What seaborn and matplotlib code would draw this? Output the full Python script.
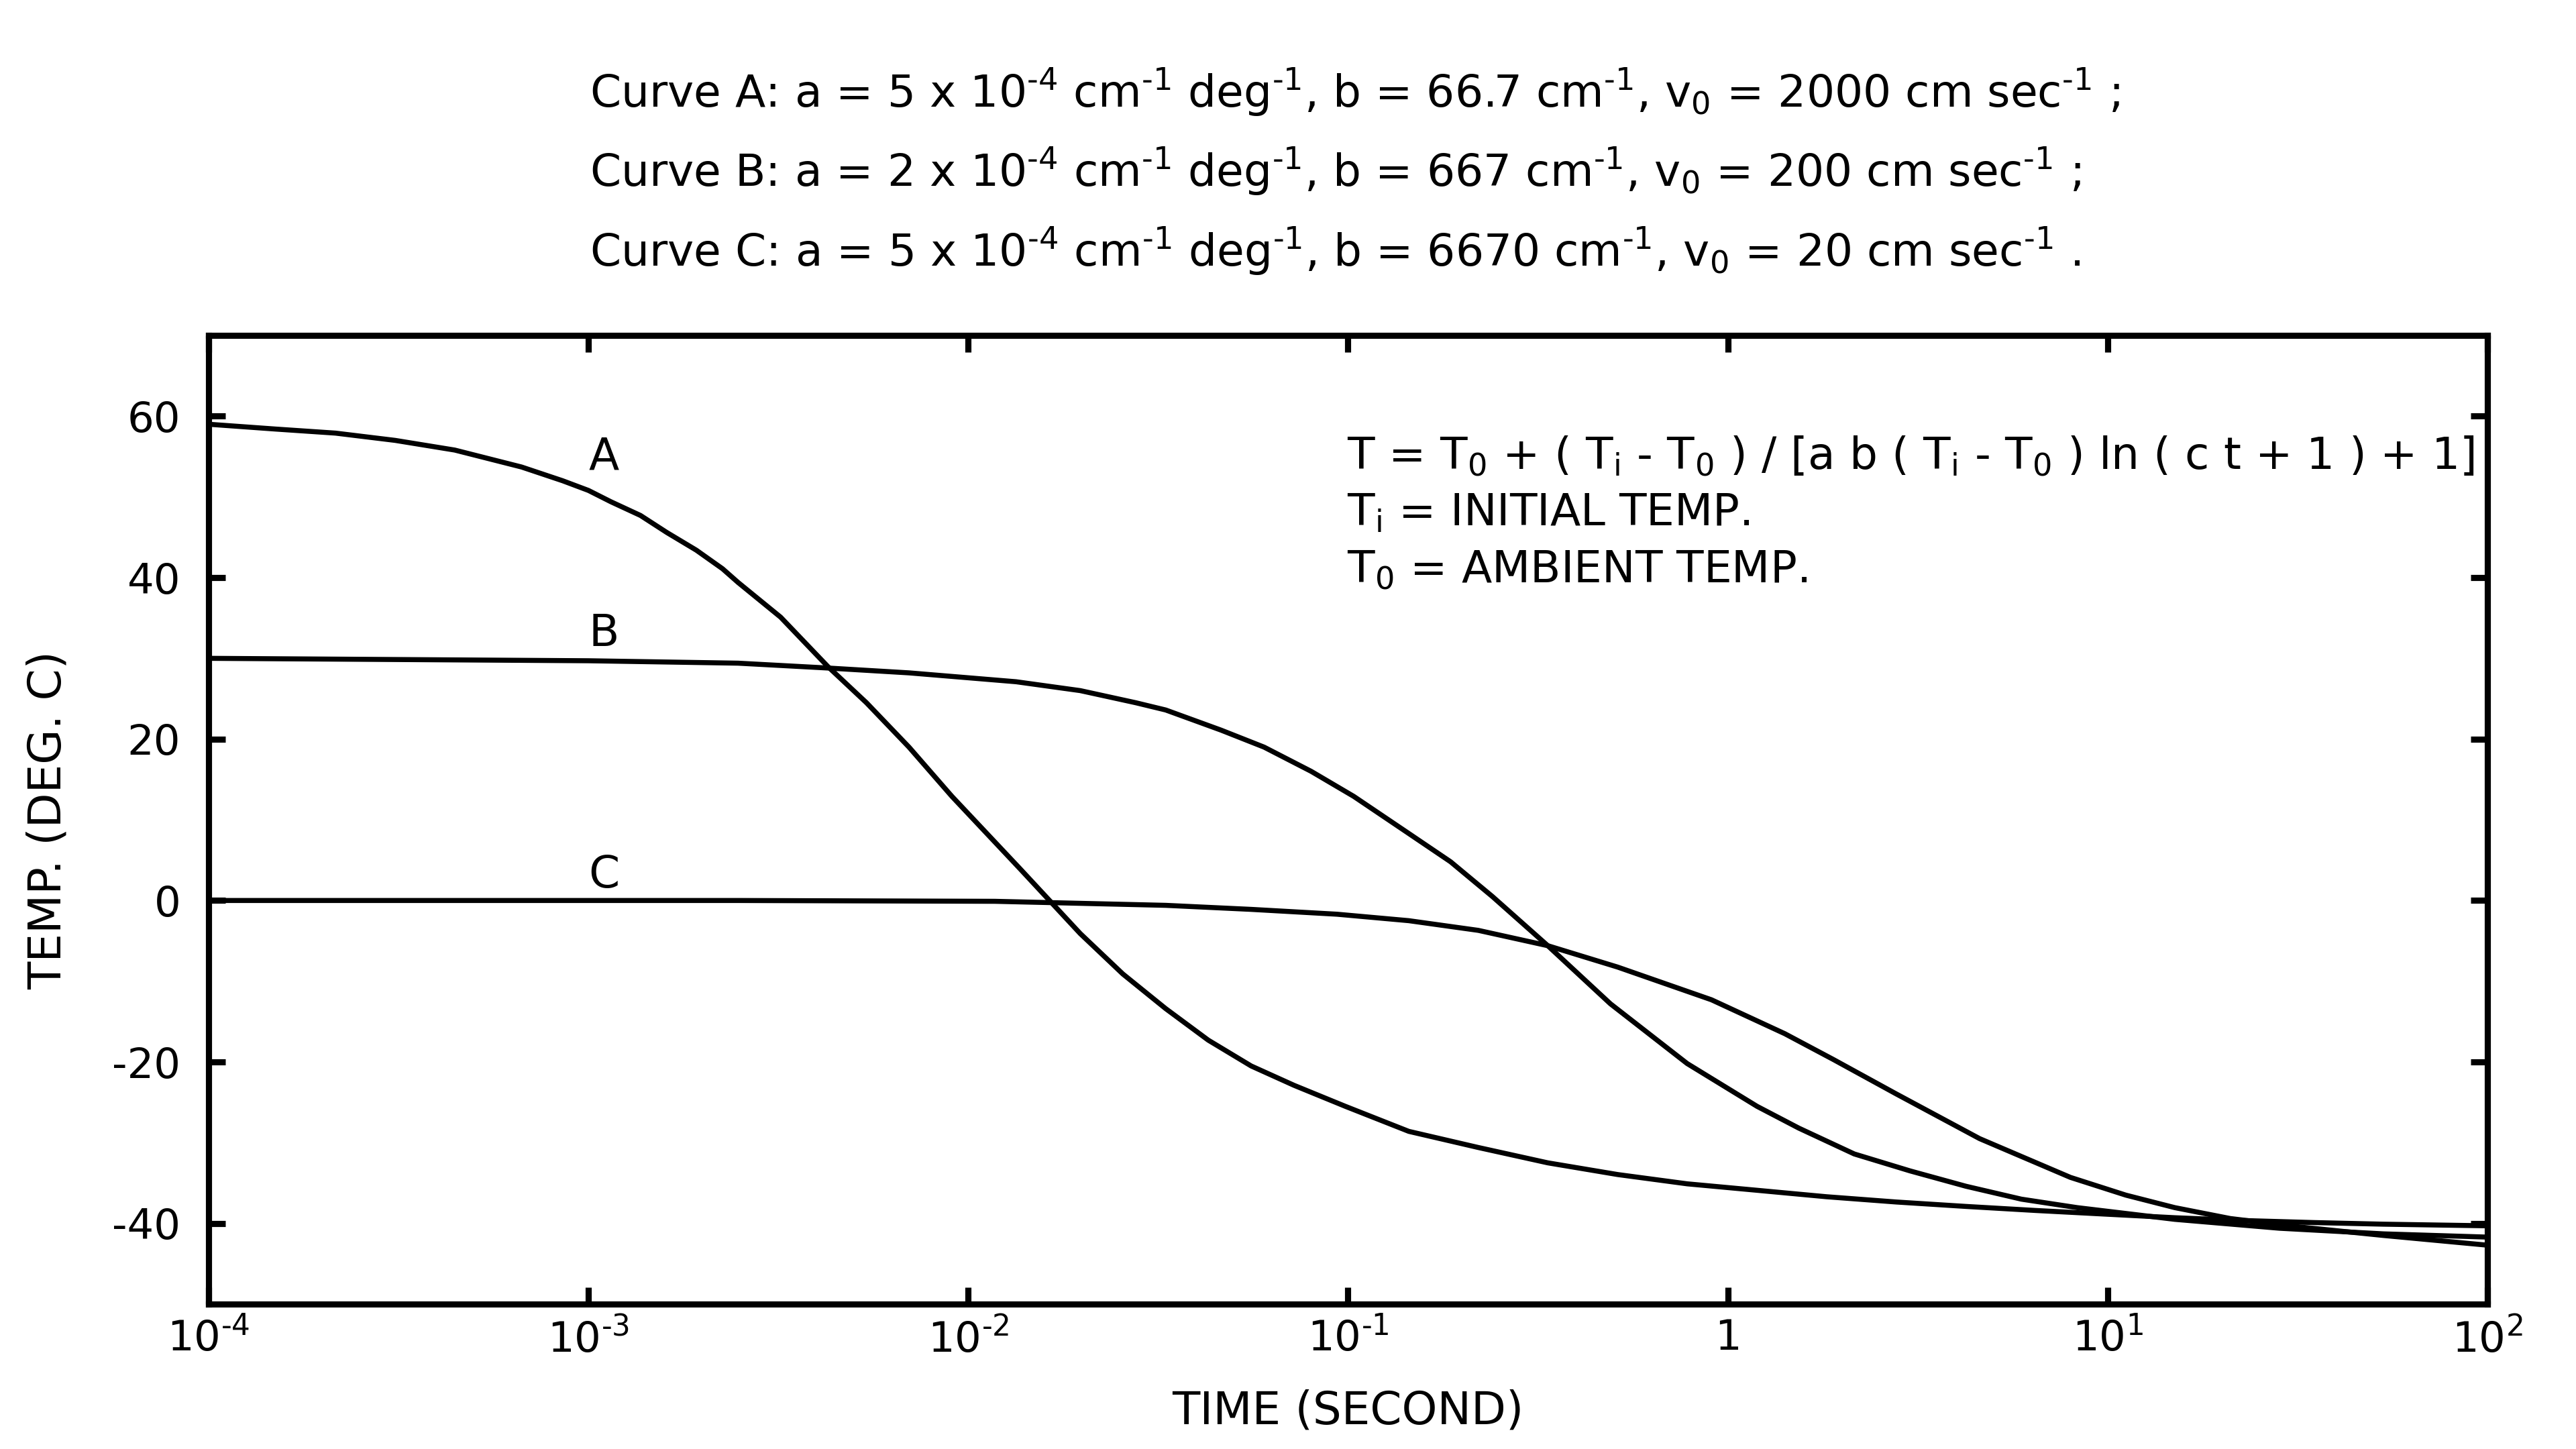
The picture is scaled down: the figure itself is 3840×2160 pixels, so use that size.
import numpy as np
import pandas as pd
import matplotlib
matplotlib.use("Agg")
import matplotlib.pyplot as plt
import seaborn as sns

# ---- data (log10 of time in seconds, temperature in deg C) ----
logt_A = [-4.0, -3.823, -3.666, -3.509, -3.352, -3.176, -3.068, -3.0, -2.941, -2.863,
          -2.794, -2.716, -2.647, -2.606, -2.494, -2.370, -2.268, -2.156, -2.043, -1.953,
          -1.863, -1.784, -1.705, -1.593, -1.480, -1.368, -1.255, -1.142, -1.007, -0.840,
          -0.657, -0.474, -0.290, -0.107, 0.077, 0.260, 0.443, 0.627, 0.810, 0.993,
          1.177, 1.360, 1.544, 1.727, 2.0]
temp_A = [59.0, 58.4, 57.9, 57.0, 55.8, 53.7, 52.0, 50.8, 49.4, 47.7,
          45.6, 43.4, 41.1, 39.4, 35.1, 29.0, 24.5, 19.0, 12.9, 8.4,
          3.9, -0.1, -4.1, -9.1, -13.4, -17.3, -20.5, -22.9, -25.5, -28.6,
          -30.6, -32.5, -33.95, -35.1, -35.9, -36.7, -37.35, -37.9, -38.4, -38.85,
          -39.3, -39.65, -39.9, -40.1, -40.3]

logt_B = [-4.0, -3.0, -2.606, -2.370, -2.156, -1.874, -1.705, -1.559, -1.480, -1.334,
          -1.221, -1.097, -0.985, -0.840, -0.730, -0.620, -0.474, -0.309, -0.107, 0.077,
          0.187, 0.333, 0.480, 0.627, 0.773, 0.920, 1.177, 1.452, 1.727, 2.0]
temp_B = [30.0, 29.7, 29.4, 28.8, 28.2, 27.1, 26.0, 24.5, 23.6, 21.1,
          19.0, 16.0, 12.9, 8.3, 4.8, 0.5, -5.6, -12.8, -20.2, -25.5,
          -28.2, -31.4, -33.5, -35.4, -37.0, -38.05, -39.5, -40.6, -41.3, -41.7]

logt_C = [-4.0, -2.606, -1.930, -1.480, -1.255, -1.029, -0.840, -0.657, -0.474, -0.290,
          -0.043, 0.150, 0.278, 0.443, 0.663, 0.902, 1.048, 1.177, 1.323, 1.507,
          1.727, 2.0]
temp_C = [0.0, 0.0, -0.1, -0.6, -1.1, -1.7, -2.5, -3.7, -5.6, -8.25,
          -12.3, -16.5, -19.7, -23.95, -29.5, -34.3, -36.5, -38.05, -39.4, -40.45,
          -41.5, -42.7]

curve_names = ["A", "B", "C"]
curve_label_pos = [(1.1e-3, 53.4), (1.1e-3, 31.5), (1.1e-3, 1.6)]

x_ticks = [1e-4, 1e-3, 1e-2, 1e-1, 1, 10, 100]
x_ticklabels = [r"10$^{\text{-4}}$", r"10$^{\text{-3}}$", r"10$^{\text{-2}}$",
                r"10$^{\text{-1}}$", "1", r"10$^{\text{1}}$", r"10$^{\text{2}}$"]
y_ticks = [60, 40, 20, 0, -20, -40]

title_lines = [
    r"Curve A: a = 5 x 10$^{\text{-4}}$ cm$^{\text{-1}}$ deg$^{\text{-1}}$, b = 66.7 cm$^{\text{-1}}$, v$_{0}$ = 2000 cm sec$^{\text{-1}}$ ;",
    r"Curve B: a = 2 x 10$^{\text{-4}}$ cm$^{\text{-1}}$ deg$^{\text{-1}}$, b = 667 cm$^{\text{-1}}$, v$_{0}$ = 200 cm sec$^{\text{-1}}$ ;",
    r"Curve C: a = 5 x 10$^{\text{-4}}$ cm$^{\text{-1}}$ deg$^{\text{-1}}$, b = 6670 cm$^{\text{-1}}$, v$_{0}$ = 20 cm sec$^{\text{-1}}$ .",
]
formula_lines = [
    r"T = T$_{0}$ + ( T$_{i}$ - T$_{0}$ ) / [a b ( T$_{i}$ - T$_{0}$ ) ln ( c t + 1 ) + 1]",
    r"T$_{i}$ = INITIAL TEMP.",
    r"T$_{0}$ = AMBIENT TEMP.",
]

# ---- style ----
sns.set_style("ticks")
plt.rcParams["font.family"] = ["DejaVu Sans"]
plt.rcParams["mathtext.fontset"] = "dejavusans"
plt.rcParams["mathtext.default"] = "regular"
plt.rcParams["axes.unicode_minus"] = False
for k in ["text.color", "axes.labelcolor", "xtick.color", "ytick.color",
          "xtick.labelcolor", "ytick.labelcolor", "axes.edgecolor"]:
    plt.rcParams[k] = "black"

FS_TICK = 15
FS_TEXT = 15.9
FS_LABEL = 16.2

fig = plt.figure(figsize=(12.8, 7.2), dpi=300)
ax = fig.add_axes([0.0810, 0.1000, 0.8846, 0.6685])

frames = []
for name, lt, tv in [("A", logt_A, temp_A), ("B", logt_B, temp_B), ("C", logt_C, temp_C)]:
    frames.append(pd.DataFrame({"time": 10.0 ** np.asarray(lt), "temp": tv, "curve": name}))
df = pd.concat(frames, ignore_index=True)

for name in curve_names:
    sub = df[df["curve"] == name]
    sns.lineplot(data=sub, x="time", y="temp", ax=ax, color="black", linewidth=1.8,
                 estimator=None, sort=False, legend=False,
                 solid_joinstyle="round", solid_capstyle="butt")

ax.set_xscale("log")
ax.set_xlim(1e-4, 1e2)
ax.set_ylim(-50, 70)
ax.set_xticks(x_ticks)
ax.set_xticklabels(x_ticklabels, fontsize=FS_TICK)
ax.xaxis.set_minor_locator(matplotlib.ticker.NullLocator())
ax.set_yticks(y_ticks)
ax.set_yticklabels([str(v) for v in y_ticks], fontsize=FS_TICK)

for sp in ax.spines.values():
    sp.set_visible(True)
    sp.set_linewidth(2.2)
    sp.set_color("black")

ax.tick_params(axis="both", which="major", direction="in", length=6, width=2.2,
               top=True, right=True, color="black", labelcolor="black")
ax.tick_params(axis="x", pad=5)
ax.tick_params(axis="y", pad=10)

ax.set_xlabel("TIME (SECOND)", fontsize=FS_LABEL, labelpad=10, color="black")
ax.set_ylabel("TEMP. (DEG. C)", fontsize=FS_LABEL, labelpad=15, color="black")

for name, (lx, ly) in zip(curve_names, curve_label_pos):
    ax.text(lx, ly, name, fontsize=FS_TEXT, ha="center", va="baseline", color="black")

for y, line in zip([0.9259, 0.8713, 0.8162], title_lines):
    fig.text(0.229, y, line, fontsize=FS_TEXT, ha="left", va="baseline", color="black")

for y, line in zip([0.6759, 0.6375, 0.5979], formula_lines):
    fig.text(0.523, y, line, fontsize=FS_TEXT, ha="left", va="baseline", color="black")

fig.savefig("out.png", dpi=300, facecolor="white")
